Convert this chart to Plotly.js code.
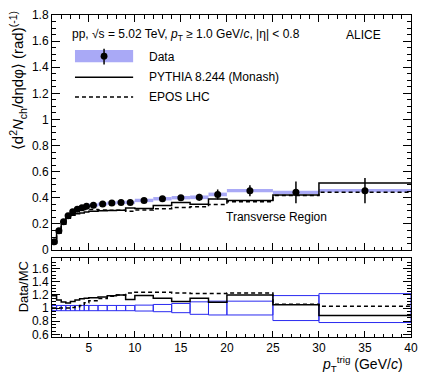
<!DOCTYPE html>
<html>
<head>
<meta charset="utf-8">
<script src="https://cdn.plot.ly/plotly-3.0.1.min.js"></script>
<style>
  body { margin: 0; background: #fff; }
  #plot { width: 431px; height: 376px; }
</style>
</head>
<body>
<div id="plot"></div>
<script>
// Bin edges in pT trig (GeV/c)
var binEdges = [1, 1.5, 2, 2.5, 3, 3.5, 4, 4.5, 5, 6, 7, 8, 9, 10, 12, 14, 16, 18, 20, 25, 30, 40];

// Data: transverse region density, stat and sys uncertainties
var dataVals = [0.063, 0.147, 0.216, 0.262, 0.293, 0.313, 0.324, 0.336, 0.344, 0.352, 0.360,
                0.365, 0.365, 0.380, 0.393, 0.401, 0.404, 0.426, 0.455, 0.442, 0.455];
var statErr = [0.002, 0.002, 0.002, 0.002, 0.002, 0.002, 0.002, 0.002, 0.002, 0.003, 0.003,
               0.004, 0.005, 0.006, 0.009, 0.015, 0.026, 0.038, 0.042, 0.083, 0.096];
var sysErr = [0.003, 0.006, 0.008, 0.009, 0.010, 0.011, 0.011, 0.012, 0.012, 0.012, 0.012,
              0.013, 0.013, 0.013, 0.013, 0.013, 0.014, 0.014, 0.013, 0.012, 0.012];

// MC predictions
var pythiaVals = [0.053, 0.131, 0.198, 0.243, 0.266, 0.279, 0.284, 0.292, 0.297, 0.301, 0.303,
                  0.304, 0.323, 0.319, 0.342, 0.365, 0.351, 0.391, 0.379, 0.421, 0.514];
var eposVals = [0.063, 0.147, 0.216, 0.262, 0.290, 0.307, 0.312, 0.311, 0.310, 0.307, 0.305,
                0.304, 0.297, 0.306, 0.317, 0.326, 0.331, 0.349, 0.370, 0.417, 0.442];

// relative data uncertainty shown in the ratio panel
var ratioUnc = [0.04, 0.04, 0.04, 0.04, 0.04, 0.04, 0.04, 0.04, 0.04, 0.04, 0.04,
                0.04, 0.04, 0.045, 0.055, 0.07, 0.095, 0.105, 0.105, 0.19, 0.22];

var centers = [], widths = [];
for (var i = 0; i < dataVals.length; i++) {
  centers.push((binEdges[i] + binEdges[i + 1]) / 2);
  widths.push(binEdges[i + 1] - binEdges[i]);
}

// step line helper: repeat the last value so 'hv' closes the last bin
function stepY(vals) { return vals.concat([vals[vals.length - 1]]); }

var pythiaRatio = dataVals.map((d, i) => d / pythiaVals[i]);
var eposRatio = dataVals.map((d, i) => d / eposVals[i]);

// outline boxes for ratio uncertainty
var boxX = [], boxY = [];
for (var i = 0; i < dataVals.length; i++) {
  var lo = binEdges[i], hi = binEdges[i + 1];
  boxX.push(lo, hi, hi, lo, lo, null);
  boxY.push(1 - ratioUnc[i], 1 - ratioUnc[i], 1 + ratioUnc[i], 1 + ratioUnc[i], 1 - ratioUnc[i], null);
}

var bandColor = '#a9a9f6';
var boxColor = '#2a2af0';

var traces = [
  {
    type: 'bar', x: centers, y: sysErr.map(s => 2 * s),
    base: dataVals.map((d, i) => d - sysErr[i]), width: widths,
    marker: {color: bandColor, line: {width: 0}},
    xaxis: 'x', yaxis: 'y', hoverinfo: 'skip'
  },
  {
    type: 'scatter', mode: 'lines', x: binEdges, y: stepY(eposVals),
    line: {shape: 'hv', color: 'black', width: 1.5, dash: '4px,3px'},
    xaxis: 'x', yaxis: 'y'
  },
  {
    type: 'scatter', mode: 'lines', x: binEdges, y: stepY(pythiaVals),
    line: {shape: 'hv', color: 'black', width: 1.5},
    xaxis: 'x', yaxis: 'y'
  },
  {
    type: 'scatter', mode: 'markers', x: centers, y: dataVals,
    marker: {color: 'black', size: 7},
    error_y: {type: 'data', array: statErr, color: 'black', thickness: 1.5, width: 0},
    xaxis: 'x', yaxis: 'y'
  },
  {
    type: 'scatter', mode: 'lines', x: boxX, y: boxY,
    line: {color: boxColor, width: 1}, connectgaps: false,
    xaxis: 'x2', yaxis: 'y2'
  },
  {
    type: 'scatter', mode: 'lines', x: binEdges, y: stepY(eposRatio),
    line: {shape: 'hv', color: 'black', width: 1.5, dash: '4px,3px'},
    xaxis: 'x2', yaxis: 'y2'
  },
  {
    type: 'scatter', mode: 'lines', x: binEdges, y: stepY(pythiaRatio),
    line: {shape: 'hv', color: 'black', width: 1.5},
    xaxis: 'x2', yaxis: 'y2'
  }
];

var axisCommon = {
  showgrid: false, zeroline: false, showline: true, linecolor: 'black', linewidth: 1,
  mirror: 'allticks', ticks: 'inside', tickcolor: 'black'
};

// legend symbol geometry in paper coordinates
var lx0 = 0.064, lx1 = 0.226, lxm = 0.145;

var layout = {
  width: 431, height: 376,
  margin: {l: 52, r: 20, t: 15, b: 39},
  paper_bgcolor: 'white', plot_bgcolor: 'white',
  showlegend: false,
  font: {family: 'Liberation Sans, Arial, sans-serif', size: 12, color: 'black'},
  xaxis: Object.assign({}, axisCommon, {
    domain: [0, 1], range: [1, 40], anchor: 'y', showticklabels: false,
    tickvals: [5, 10, 15, 20, 25, 30, 35, 40], ticklen: 7,
    minor: {ticks: 'inside', dtick: 1, tick0: 0, ticklen: 3.5, tickcolor: 'black'}
  }),
  yaxis: Object.assign({}, axisCommon, {
    domain: [0.27, 1], range: [0, 1.8], anchor: 'x',
    dtick: 0.2, tick0: 0, ticklen: 8, tickfont: {size: 12},
    minor: {ticks: 'inside', dtick: 0.05, ticklen: 4, tickcolor: 'black'}
  }),
  xaxis2: Object.assign({}, axisCommon, {
    domain: [0, 1], range: [1, 40], anchor: 'y2',
    tickvals: [5, 10, 15, 20, 25, 30, 35, 40], ticklen: 6, tickfont: {size: 12},
    minor: {ticks: 'inside', dtick: 1, tick0: 0, ticklen: 3, tickcolor: 'black'}
  }),
  yaxis2: Object.assign({}, axisCommon, {
    domain: [0, 0.245], range: [0.56, 1.76], anchor: 'x2',
    tickvals: [0.6, 0.8, 1, 1.2, 1.4, 1.6], ticklen: 8, tickfont: {size: 12},
    minor: {ticks: 'inside', dtick: 0.05, ticklen: 4, tickcolor: 'black'}
  }),
  shapes: [
    {type: 'rect', xref: 'paper', yref: 'paper', x0: lx0, x1: lx1, y0: 0.853, y1: 0.891,
     fillcolor: bandColor, line: {width: 0}},
    {type: 'line', xref: 'paper', yref: 'paper', x0: lxm, x1: lxm, y0: 0.846, y1: 0.895,
     line: {color: 'black', width: 1.5}},
    {type: 'circle', xref: 'paper', yref: 'paper', x0: lxm - 0.0095, x1: lxm + 0.0095,
     y0: 0.872 - 0.0105, y1: 0.872 + 0.0105, fillcolor: 'black', line: {width: 0}},
    {type: 'line', xref: 'paper', yref: 'paper', x0: lx0, x1: lx1, y0: 0.807, y1: 0.807,
     line: {color: 'black', width: 1.5}},
    {type: 'line', xref: 'paper', yref: 'paper', x0: lx0, x1: lx1, y0: 0.745, y1: 0.745,
     line: {color: 'black', width: 1.5, dash: '4px,3px'}}
  ],
  annotations: [
    {xref: 'paper', yref: 'paper', x: -0.097, y: 0.795, textangle: -90, showarrow: false,
     xanchor: 'center', yanchor: 'middle', font: {size: 15},
     text: '⟨d<sup>2</sup><i>N</i><sub>ch</sub>/dηdφ⟩ (rad)<sup>(-1)</sup>'},
    {xref: 'paper', yref: 'paper', x: -0.08, y: 0.155, textangle: -90, showarrow: false,
     xanchor: 'center', yanchor: 'middle', font: {size: 13}, text: 'Data/MC'},
    {xref: 'paper', yref: 'paper', x: 0.983, y: -0.048, showarrow: false,
     xanchor: 'right', yanchor: 'top', font: {size: 14},
     text: '<i>p</i><sub>T</sub><sup>trig</sup> (GeV/<i>c</i>)'},
    {xref: 'paper', yref: 'paper', x: 0.05, y: 0.938, showarrow: false,
     xanchor: 'left', yanchor: 'middle', font: {size: 12},
     text: 'pp, √s = 5.02 TeV, <i>p</i><sub>T</sub> ≥ 1.0 GeV/<i>c</i>, |η| < 0.8'},
    {xref: 'paper', yref: 'paper', x: 0.922, y: 0.938, showarrow: false,
     xanchor: 'right', yanchor: 'middle', font: {size: 12}, text: 'ALICE'},
    {xref: 'paper', yref: 'paper', x: 0.265, y: 0.870, showarrow: false,
     xanchor: 'left', yanchor: 'middle', font: {size: 12}, text: 'Data'},
    {xref: 'paper', yref: 'paper', x: 0.265, y: 0.806, showarrow: false,
     xanchor: 'left', yanchor: 'middle', font: {size: 12}, text: 'PYTHIA 8.244 (Monash)'},
    {xref: 'paper', yref: 'paper', x: 0.265, y: 0.744, showarrow: false,
     xanchor: 'left', yanchor: 'middle', font: {size: 12}, text: 'EPOS LHC'},
    {xref: 'paper', yref: 'paper', x: 0.624, y: 0.373, showarrow: false,
     xanchor: 'center', yanchor: 'middle', font: {size: 12}, text: 'Transverse Region'}
  ]
};

Plotly.newPlot('plot', traces, layout, {displayModeBar: false, staticPlot: true});
</script>
</body>
</html>
